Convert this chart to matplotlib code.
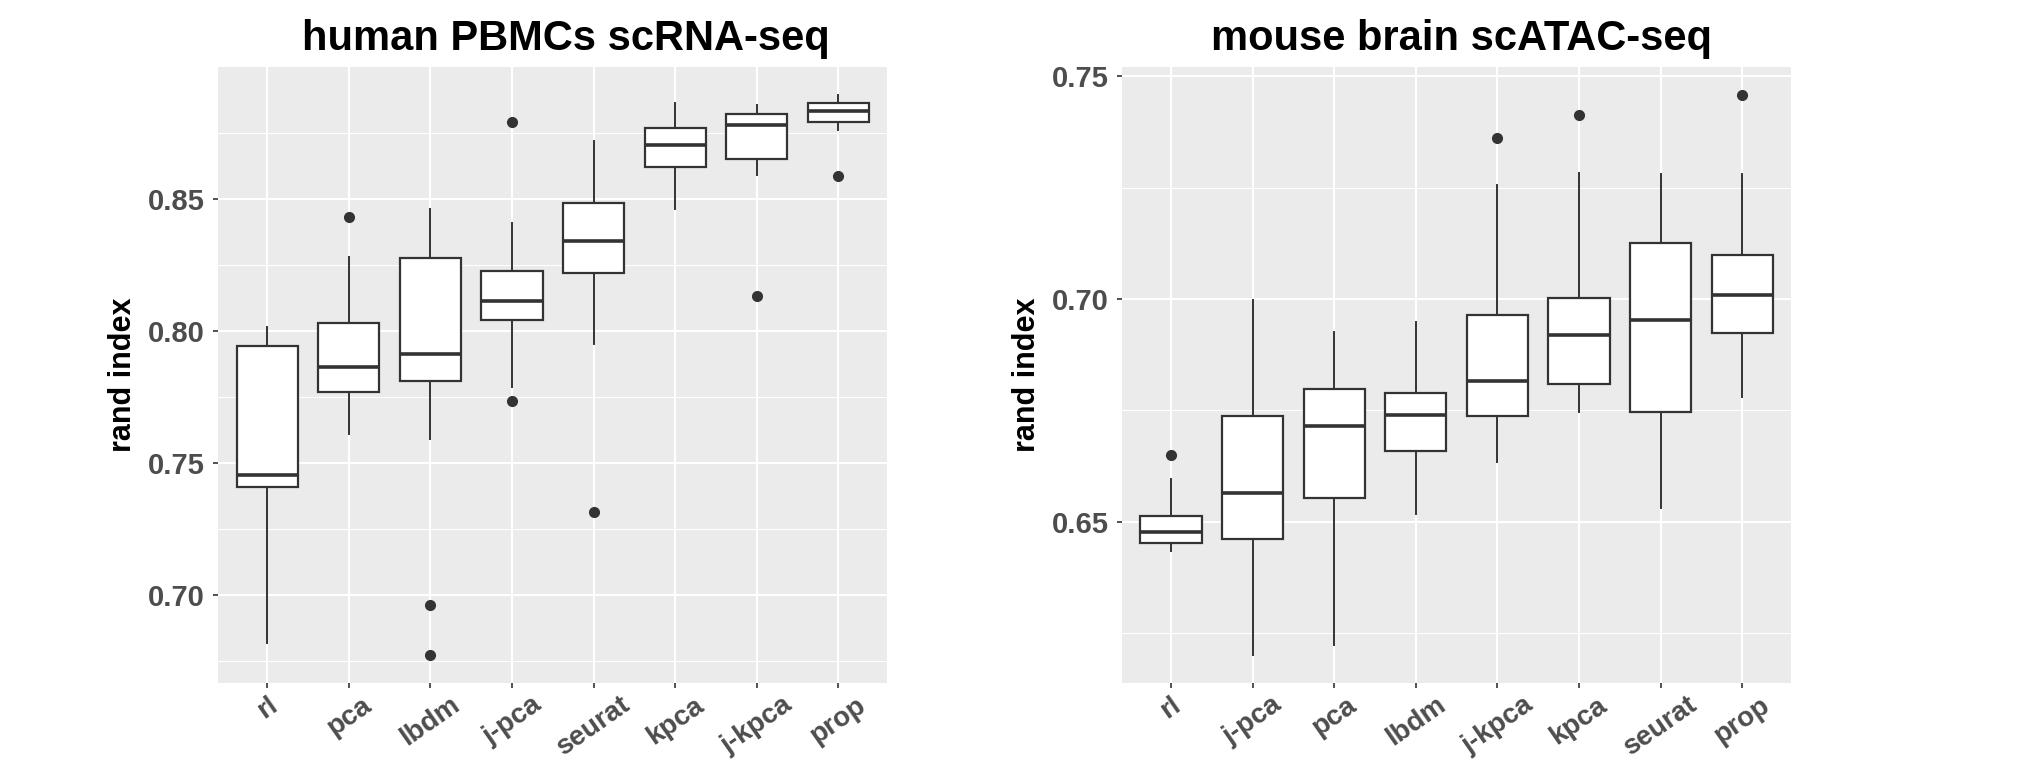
import numpy as np
import matplotlib
matplotlib.use("Agg")
import matplotlib.pyplot as plt
from matplotlib.ticker import MultipleLocator

plt.rcParams['font.family'] = ['Liberation Sans', 'DejaVu Sans']

# human PBMCs scRNA-seq
cats_l = ["rl", "pca", "lbdm", "j-pca", "seurat", "kpca", "j-kpca", "prop"]
lo_l = [0.682, 0.761, 0.759, 0.779, 0.795, 0.846, 0.859, 0.876]
q1_l = [0.741, 0.777, 0.781, 0.804, 0.822, 0.862, 0.865, 0.879]
med_l = [0.7455, 0.7864, 0.7915, 0.8113, 0.8339, 0.8704, 0.8779, 0.8831]
q3_l = [0.7943, 0.8031, 0.8278, 0.8227, 0.8483, 0.8769, 0.8823, 0.8863]
hi_l = [0.8016, 0.8279, 0.8461, 0.8410, 0.8719, 0.8864, 0.8857, 0.8894]
out_l = [[], [0.8431], [0.6964, 0.6775], [0.8790, 0.7737], [0.7317], [], [0.8132], [0.8586]]

# mouse brain scATAC-seq
cats_r = ["rl", "j-pca", "pca", "lbdm", "j-kpca", "kpca", "seurat", "prop"]
lo_r = [0.6435, 0.6202, 0.6224, 0.6519, 0.6635, 0.6747, 0.6532, 0.6780]
q1_r = [0.6453, 0.6462, 0.6553, 0.6660, 0.6738, 0.6810, 0.6747, 0.6924]
med_r = [0.6477, 0.6565, 0.6716, 0.6740, 0.6815, 0.6920, 0.6952, 0.7008]
q3_r = [0.6513, 0.6738, 0.6799, 0.6789, 0.6965, 0.7003, 0.7126, 0.7098]
hi_r = [0.6596, 0.6998, 0.6927, 0.6949, 0.7256, 0.7283, 0.7281, 0.7281]
out_r = [[0.6651], [], [], [], [0.7360], [0.7413], [], [0.7458]]

EDGE = "#333333"
TXT = "#4D4D4D"


def draw_panel(ax, title, title_x, cats, lo, q1, med, q3, hi, outs, major):
    stats = []
    for i in range(len(cats)):
        stats.append(dict(whislo=lo[i], q1=q1[i], med=med[i], q3=q3[i],
                          whishi=hi[i], fliers=outs[i]))
    pos = np.arange(1, len(cats) + 1)
    ax.bxp(stats, positions=pos, widths=0.75, showcaps=False, patch_artist=True,
           boxprops=dict(facecolor="white", edgecolor=EDGE, linewidth=1.6),
           whiskerprops=dict(color=EDGE, linewidth=1.4),
           medianprops=dict(color=EDGE, linewidth=2.6, solid_capstyle="butt"),
           flierprops=dict(marker="o", markerfacecolor=EDGE, markeredgecolor=EDGE,
                           markersize=7),
           zorder=3)

    vals = np.concatenate([lo, hi] + [np.array(o) for o in outs if o])
    vmin, vmax = vals.min(), vals.max()
    span = vmax - vmin
    ax.set_ylim(vmin - 0.05 * span, vmax + 0.05 * span)
    ax.set_xlim(0.4, len(cats) + 0.6)

    ax.set_facecolor("#EBEBEB")
    ax.yaxis.set_major_locator(MultipleLocator(major))
    ax.yaxis.set_minor_locator(MultipleLocator(major / 2))
    ax.grid(which="major", color="white", linewidth=1.5, zorder=0)
    ax.grid(which="minor", axis="y", color="white", linewidth=0.75, zorder=0)
    ax.set_axisbelow(True)
    for s in ax.spines.values():
        s.set_visible(False)

    ax.set_xticks(pos)
    ax.set_xticklabels(cats, rotation=35, ha="center", va="top")
    ax.yaxis.set_major_formatter(matplotlib.ticker.FormatStrFormatter("%.2f"))
    ax.tick_params(axis="both", which="major", length=3.6, width=1.2, color=EDGE,
                   labelcolor=TXT)
    ax.tick_params(axis="x", labelsize=20, pad=3)
    ax.tick_params(axis="y", labelsize=21, pad=6)
    ax.tick_params(axis="y", which="minor", length=0)
    for lab in ax.get_xticklabels() + ax.get_yticklabels():
        lab.set_fontweight("bold")

    ax.set_ylabel("rand index", fontsize=22, fontweight="bold", color="black", labelpad=7)
    ax.set_title(title, fontsize=30, fontweight="bold", x=title_x, pad=12)


fig = plt.figure(figsize=(20.4, 7.76), dpi=100)
ax1 = fig.add_axes([0.107, 0.12, 0.328, 0.794])
ax2 = fig.add_axes([0.550, 0.12, 0.328, 0.794])

draw_panel(ax1, "human PBMCs scRNA-seq", 0.519, cats_l, lo_l, q1_l, med_l, q3_l, hi_l, out_l, 0.05)
draw_panel(ax2, "mouse brain scATAC-seq", 0.507, cats_r, lo_r, q1_r, med_r, q3_r, hi_r, out_r, 0.05)

fig.savefig("out.png", dpi=100, facecolor="white")
